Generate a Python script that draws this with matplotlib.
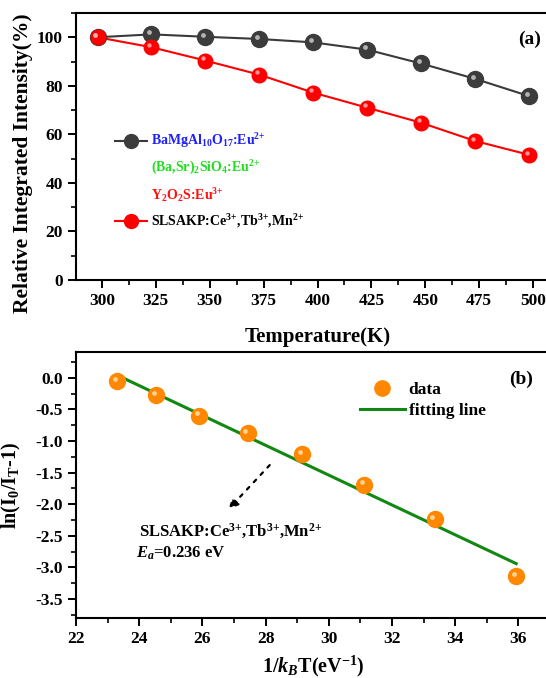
import numpy as np
import matplotlib
matplotlib.use('Agg')
import matplotlib.pyplot as plt
from matplotlib.ticker import MultipleLocator
from matplotlib.transforms import ScaledTranslation
from matplotlib.lines import Line2D

plt.rcParams['font.family'] = ['Liberation Serif', 'DejaVu Serif']
plt.rcParams['font.weight'] = 'bold'
plt.rcParams['mathtext.fontset'] = 'custom'
plt.rcParams['mathtext.rm'] = 'Liberation Serif:bold'
plt.rcParams['mathtext.bf'] = 'Liberation Serif:bold'
plt.rcParams['mathtext.it'] = 'Liberation Serif:bold:italic'

# panel (a): relative integrated intensity vs temperature
temperature = [298, 323, 348, 373, 398, 423, 448, 473, 498]
bam = [100, 101.2, 100.2, 99.3, 97.9, 94.9, 89.2, 82.9, 75.8]
slsakp = [100, 95.9, 90.4, 84.6, 77.2, 71.0, 64.8, 57.3, 51.6]

# panel (b): Arrhenius fit
inv_kt = [23.30, 24.53, 25.90, 27.43, 29.16, 31.11, 33.35, 35.93]
ln_ratio = [-0.05, -0.28, -0.60, -0.88, -1.21, -1.69, -2.24, -3.14]
fit_x = [23.30, 35.93]
fit_y = [0.04, -2.94]


def ball(ax, x, y, color, highlight, ms, **kw):
    ax.plot(x, y, 'o', color=color, mec=color, ms=ms, zorder=3, **kw)
    off = ax.transData + ScaledTranslation(-1.6 / 72, 1.6 / 72, ax.figure.dpi_scale_trans)
    ax.plot(x, y, 'o', color=highlight, mec='none', ms=ms * 0.3, alpha=0.85,
            transform=off, zorder=4)


def style(ax):
    for s in ax.spines.values():
        s.set_linewidth(1.5)
    ax.spines['right'].set_visible(False)
    ax.tick_params(which='major', direction='out', length=6, width=1.4, labelsize=12.5)
    ax.tick_params(which='minor', direction='out', length=3.5, width=1.2)


def ion(n):
    return r'$^{\mathrm{' + n + r'{+}}}$'


fig = plt.figure(figsize=(5.46, 6.78), dpi=100)

# ---- (a)
ax1 = fig.add_axes([76 / 546, 1 - 280 / 678, 483 / 546, 267 / 678])
ax1.plot(temperature, bam, '-', color='#3a3a3a', lw=1.5, zorder=2)
ax1.plot(temperature, slsakp, '-', color='red', lw=1.5, zorder=2)
ball(ax1, temperature, bam, '#3c3c3c', '#c8c8c8', 11.5)
ball(ax1, temperature, slsakp, '#ff0000', '#ffb0b0', 10.5)
ax1.set_xlim(288, 512)
ax1.set_ylim(0, 110)
ax1.xaxis.set_major_locator(MultipleLocator(25))
ax1.xaxis.set_minor_locator(MultipleLocator(12.5))
ax1.yaxis.set_major_locator(MultipleLocator(20))
ax1.yaxis.set_minor_locator(MultipleLocator(10))
style(ax1)
ax1.set_xlabel('Temperature(K)', fontsize=15, fontweight='bold', labelpad=13)
ax1.set_ylabel('Relative Integrated Intensity(%)', fontsize=15.5, fontweight='bold')
ax1.yaxis.set_label_coords(-0.09, 0.438)
ax1.text(0.94, 0.9, '(a)', transform=ax1.transAxes, fontsize=14, fontweight='bold',
         ha='center', va='center')

h_bam = Line2D([], [], color='#3a3a3a', lw=1.5, marker='o', ms=10, mfc='#3c3c3c', mec='#3c3c3c')
h_none = Line2D([], [], color='none')
h_sl = Line2D([], [], color='red', lw=1.5, marker='o', ms=10, mfc='red', mec='red')
labels_a = [r'BaMgAl$_{\mathrm{10}}$O$_{\mathrm{17}}$:Eu' + ion('2'),
            r'(Ba,Sr)$_{\mathrm{2}}$SiO$_{\mathrm{4}}$:Eu' + ion('2'),
            r'Y$_{\mathrm{2}}$O$_{\mathrm{2}}$S:Eu' + ion('3'),
            'SLSAKP:Ce' + ion('3') + ',Tb' + ion('3') + ',Mn' + ion('2')]
leg = ax1.legend([h_bam, h_none, h_none, h_sl], labels_a, loc='center left',
                 bbox_to_anchor=(0.081, 0.371), frameon=False, borderpad=0,
                 borderaxespad=0, handlelength=2.3, handletextpad=0.3,
                 labelspacing=0.62, prop={'size': 10, 'weight': 'bold'})
for t, c in zip(leg.get_texts(), ['#1f1fff', '#22dd22', '#ff1010', 'black']):
    t.set_color(c)

# ---- (b)
ax2 = fig.add_axes([76 / 546, 1 - 618 / 678, 474 / 546, 265.6 / 678])
ax2.plot(fit_x, fit_y, '-', color='#118811', lw=2.2, zorder=2, label='fitting line')
ball(ax2, inv_kt, ln_ratio, '#ff8800', '#ffe0b0', 11.5, label='data')
ax2.set_xlim(22, 37)
ax2.set_ylim(-3.8, 0.4)
ax2.xaxis.set_major_locator(MultipleLocator(2))
ax2.xaxis.set_minor_locator(MultipleLocator(1))
ax2.yaxis.set_major_locator(MultipleLocator(0.5))
ax2.yaxis.set_minor_locator(MultipleLocator(0.25))
ax2.yaxis.set_major_formatter(matplotlib.ticker.FormatStrFormatter('%.1f'))
style(ax2)
ax2.set_xlabel(r'1/$k_{\mathit{B}}$T(eV$^{\mathrm{-1}}$)', fontsize=14.5, fontweight='bold', labelpad=5)
ax2.set_ylabel(r'ln(I$_{\mathrm{0}}$/I$_{\mathrm{T}}$-1)', fontsize=14.5, fontweight='bold', labelpad=9)
ax2.text(0.94, 0.9, '(b)', transform=ax2.transAxes, fontsize=14, fontweight='bold',
         ha='center', va='center')

h_data = Line2D([], [], ls='none', marker='o', ms=11, mfc='#ff8800', mec='#ff8800')
h_fit = Line2D([], [], color='#118811', lw=2.2)
ax2.legend([h_data, h_fit], ['data', 'fitting line'], loc='center left',
           bbox_to_anchor=(0.599, 0.8185), frameon=False, borderpad=0,
           borderaxespad=0, handlelength=2.6, handletextpad=0.2,
           labelspacing=0.25, prop={'size': 12.5, 'weight': 'bold'})

ax2.annotate('', xy=(26.77, -2.11), xytext=(28.19, -1.35),
             arrowprops=dict(arrowstyle='-|>', ls=(0, (1.5, 3)), lw=1.6,
                             color='black', mutation_scale=14))
ax2.text(24.0, -2.43, 'SLSAKP:Ce' + ion('3') + ',Tb' + ion('3') + ',Mn' + ion('2'),
         fontsize=12, fontweight='bold', va='center', ha='left')
ax2.text(23.9, -2.78, r'$E_{a}$=0.236 eV', fontsize=12, fontweight='bold',
         va='center', ha='left')

fig.savefig('out.png', dpi=100)
